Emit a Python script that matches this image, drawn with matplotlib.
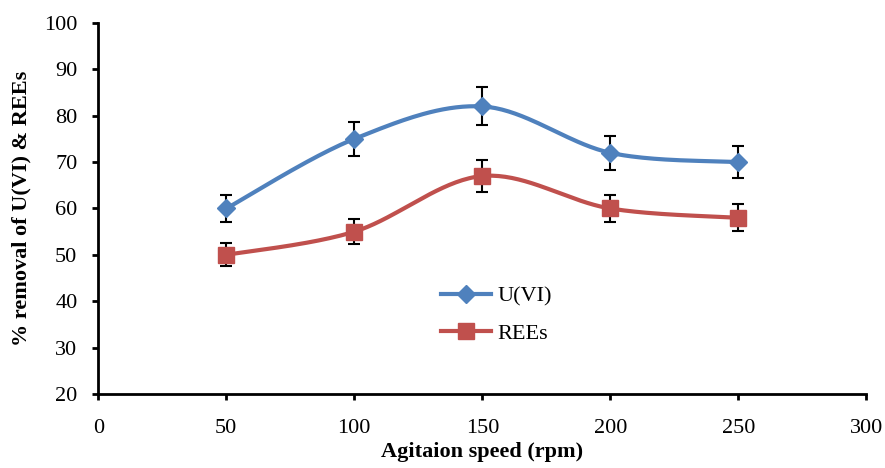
import numpy as np
import matplotlib.pyplot as plt

# values
speed = [50, 100, 150, 200, 250]
u_vi = [60, 75, 82, 72, 70]
u_vi_err = [3.0, 3.75, 4.1, 3.6, 3.5]
rees = [50, 55, 67, 60, 58]
rees_err = [2.5, 2.75, 3.35, 3.0, 2.9]

blue = '#4F81BD'
red = '#C0504D'


def smooth(x, y, n=40):
    # Catmull-Rom style curve through the points (like Excel's smoothed line)
    x = np.asarray(x, float)
    y = np.asarray(y, float)
    px = np.concatenate([[x[0]], x, [x[-1]]])
    py = np.concatenate([[y[0]], y, [y[-1]]])
    xs, ys = [], []
    for i in range(1, len(px) - 2):
        p0 = np.array([px[i - 1], py[i - 1]])
        p1 = np.array([px[i], py[i]])
        p2 = np.array([px[i + 1], py[i + 1]])
        p3 = np.array([px[i + 2], py[i + 2]])
        c1 = p1 + (p2 - p0) / 6
        c2 = p2 - (p3 - p1) / 6
        t = np.linspace(0, 1, n)[:, None]
        pts = (1 - t) ** 3 * p1 + 3 * (1 - t) ** 2 * t * c1 + 3 * (1 - t) * t ** 2 * c2 + t ** 3 * p2
        xs.extend(pts[:, 0])
        ys.extend(pts[:, 1])
    return xs, ys


plt.rcParams['font.family'] = ['Liberation Serif', 'DejaVu Serif']

fig = plt.figure(figsize=(8.85, 4.68), dpi=100)
ax = fig.add_axes([0.111, 0.158, 0.868, 0.793])

for y, err, col, mk, ms, lab in [(u_vi, u_vi_err, blue, 'D', 9, 'U(VI)'),
                                 (rees, rees_err, red, 's', 11, 'REEs')]:
    sx, sy = smooth(speed, y)
    ax.plot(sx, sy, color=col, lw=3, zorder=2)
    ax.errorbar(speed, y, yerr=err, fmt='none', ecolor='black', elinewidth=1.5,
                capsize=4, capthick=1.5, zorder=3)
    ax.plot(speed, y, linestyle='none', marker=mk, ms=ms, color=col, zorder=4)
    ax.plot([], [], color=col, lw=3, marker=mk, ms=ms, label=lab)

ax.set_xlim(0, 300)
ax.set_ylim(20, 100)
ax.set_xticks(np.arange(0, 301, 50))
ax.set_yticks(np.arange(20, 101, 10))
ax.spines['top'].set_visible(False)
ax.spines['right'].set_visible(False)
ax.spines['left'].set_linewidth(2)
ax.spines['bottom'].set_linewidth(2)
ax.tick_params(axis='both', labelsize=16, direction='out', length=4, width=2)
ax.tick_params(axis='y', pad=11)
ax.tick_params(axis='x', pad=14)
ax.set_xlabel('Agitaion speed (rpm)', fontsize=16, fontweight='bold', labelpad=3)
ax.set_ylabel('% removal of U(VI) & REEs', fontsize=16, fontweight='bold', labelpad=9)

ax.legend(loc='upper left', bbox_to_anchor=(0.42, 0.345), frameon=False, fontsize=16,
          handlelength=2.25, labelspacing=0.75, handletextpad=0.3)

fig.savefig('out.png', dpi=100)
